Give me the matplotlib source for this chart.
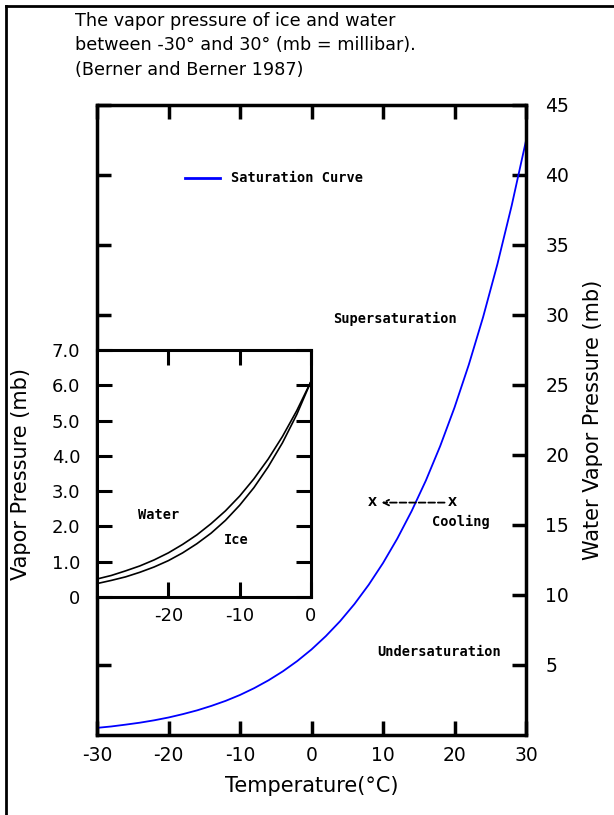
import matplotlib
matplotlib.use("Agg")
import matplotlib.pyplot as plt
from matplotlib.lines import Line2D

# saturation vapour pressure over water (mb), -30..30 degC every 2 degrees
temps = [-30, -28, -26, -24, -22, -20, -18, -16, -14, -12, -10, -8, -6, -4, -2,
         0, 2, 4, 6, 8, 10, 12, 14, 16, 18, 20, 22, 24, 26, 28, 30]
sat_water = [0.51, 0.61, 0.74, 0.88, 1.05, 1.25, 1.49, 1.76, 2.08, 2.44, 2.86,
             3.35, 3.91, 4.55, 5.28, 6.11, 7.06, 8.13, 9.35, 10.73, 12.28,
             14.03, 15.99, 18.18, 20.64, 23.39, 26.45, 29.85, 33.63, 37.82, 42.45]

# inset: water and ice, -30..0
inset_temps = [-30, -28, -26, -24, -22, -20, -18, -16, -14, -12, -10, -8, -6, -4, -2, 0]
inset_water = sat_water[:16]
inset_ice = [0.38, 0.47, 0.57, 0.70, 0.85, 1.03, 1.25, 1.51, 1.81, 2.17, 2.60,
             3.10, 3.69, 4.37, 5.17, 6.11]

main_xticks = [-30, -20, -10, 0, 10, 20, 30]
main_yticks = [5, 10, 15, 20, 25, 30, 35, 40, 45]
inset_xticks = [-20, -10, 0]
inset_yticks = [0, 1, 2, 3, 4, 5, 6, 7]
inset_ylabels = ['0', '1.0', '2.0', '3.0', '4.0', '5.0', '6.0', '7.0']

plt.rcParams['font.family'] = ['DejaVu Sans']
small = dict(family='DejaVu Sans Mono', fontsize=9.8, fontweight='bold')

fig = plt.figure(figsize=(6.14, 8.15), dpi=100)
W, H = 614, 815

def box(l, t, r, b):
    return [l / W, 1 - b / H, (r - l) / W, (b - t) / H]

ax = fig.add_axes(box(97, 105, 526, 735))
ax.plot(temps, sat_water, color='#0000ff', lw=1.3)
ax.set_xlim(-30, 30)
ax.set_ylim(0, 45)
for s in ax.spines.values():
    s.set_linewidth(2.5)
ax.set_xticks(main_xticks)
ax.set_xticklabels([str(t) for t in main_xticks])
ax.set_yticks(main_yticks)
ax.tick_params(axis='both', direction='in', length=10, width=2.5, labelsize=13.5)
ax.tick_params(axis='x', top=True, pad=8)
ax.tick_params(axis='y', left=True, right=True, labelleft=False, labelright=True, pad=14)
ax.set_xlabel('Temperature(°C)', fontsize=15, labelpad=8)
ax.yaxis.set_label_position('right')
ax.set_ylabel('Water Vapor Pressure (mb)', fontsize=15, labelpad=10)

# legend-like entry
ax.plot([-17.7, -12.8], [39.8, 39.8], color='#0000ff', lw=2)
ax.text(-11.2, 39.8, 'Saturation Curve', va='center', **small)
ax.text(11.7, 29.7, 'Supersaturation', ha='center', va='center', **small)
ax.text(17.9, 5.9, 'Undersaturation', ha='center', va='center', **small)
ax.text(20.9, 15.2, 'Cooling', ha='center', va='center', **small)
ax.text(8.5, 16.6, 'X', fontsize=8.5, fontweight='bold', ha='center', va='center')
ax.text(19.7, 16.6, 'X', fontsize=8.5, fontweight='bold', ha='center', va='center')
ax.annotate('', xy=(9.4, 16.6), xytext=(19.0, 16.6),
            arrowprops=dict(arrowstyle='->', linestyle='--', lw=1.3, color='black'))

# inset
ins = fig.add_axes(box(97, 350, 311, 597))
ins.set_facecolor('white')
ins.plot(inset_temps, inset_water, color='black', lw=1.2)
ins.plot(inset_temps, inset_ice, color='black', lw=1.2)
ins.set_xlim(-30, 0)
ins.set_ylim(0, 7)
for s in ins.spines.values():
    s.set_linewidth(2.2)
ins.set_xticks(inset_xticks)
ins.set_xticklabels([str(t) for t in inset_xticks])
ins.set_yticks(inset_yticks)
ins.set_yticklabels(inset_ylabels)
ins.tick_params(axis='both', direction='in', length=11, width=2.2, labelsize=13)
ins.tick_params(axis='x', top=True, pad=7)
ins.tick_params(axis='y', left=True, right=True, pad=12)
ins.text(-21.4, 2.32, 'Water', ha='center', va='center', **small)
ins.text(-10.5, 1.61, 'Ice', ha='center', va='center', **small)

fig.text(21 / W, 1 - 474 / H, 'Vapor Pressure (mb)', fontsize=15, rotation=90,
         ha='center', va='center')

# title
fig.text(75 / W, 1 - 21 / H, 'The vapor pressure of ice and water', fontsize=12.7, va='center')
fig.text(75 / W, 1 - 45 / H, 'between -30° and 30° (mb = millibar).', fontsize=12.7, va='center')
fig.text(75 / W, 1 - 70 / H, '(Berner and Berner 1987)', fontsize=12.7, va='center')

# frame lines on top and left
fig.add_artist(Line2D([6 / W, 6 / W], [0, 1 - 6 / H], color='black', lw=2))
fig.add_artist(Line2D([6 / W, 1], [1 - 6 / H, 1 - 6 / H], color='black', lw=2))

fig.savefig('out.png', dpi=100)
